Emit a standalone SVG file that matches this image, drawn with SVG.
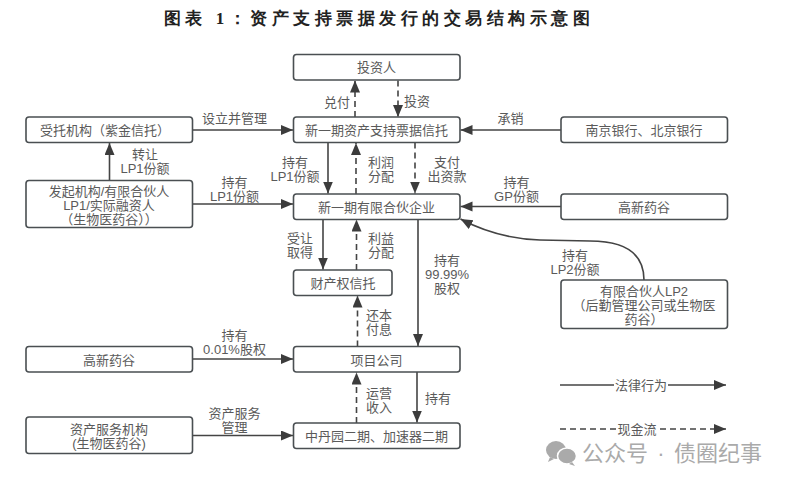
<svg xmlns="http://www.w3.org/2000/svg" width="789" height="486" viewBox="0 0 789 486">
<style>
text{font-family:"Liberation Sans","Noto Sans CJK SC",sans-serif;font-size:13px;fill:#5a5a5a;text-anchor:middle}
.n rect{fill:#fff;stroke:#4a4f52;stroke-width:1.6}
.c path{fill:none;stroke:#444;stroke-width:1.6}
.s{marker-end:url(#a)}
.d{stroke-dasharray:6 4;marker-end:url(#a)}
.t{font-family:"Liberation Serif",serif;font-size:17px;font-weight:700;fill:#222;letter-spacing:4.500px}
.w{font-size:22px;fill:#aaa;text-anchor:start;word-spacing:3.250px}
</style>
<defs>
<marker id="a" markerUnits="userSpaceOnUse" markerWidth="13" markerHeight="11" refX="12" refY="5" orient="auto"><path d="M0 0L12 5L0 10Z" fill="#3c3c3c"/></marker>
</defs>
<rect width="789" height="486" fill="#fff"/>
<text class="t" x="379" y="24">图表 1：资产支持票据发行的交易结构示意图</text>
<g class="c" id="connectors">
<path class="d" d="M355 117V80.500"/>
<path class="d" d="M398 80.500V117"/>
<path class="s" d="M192.500 130H293"/>
<path class="s" d="M561 130H460.500"/>
<path class="s" d="M109.500 180.500V143"/>
<path class="s" d="M328 142.500V193.500"/>
<path class="d" d="M356 194V143"/>
<path class="d" d="M415 142.500V193.500"/>
<path class="s" d="M192.500 204H293"/>
<path class="s" d="M561 206.500H460.500"/>
<path class="s" d="M323 219V269.500"/>
<path class="d" d="M356.500 270V219.500"/>
<path class="s" d="M418 219V346"/>
<path class="s" d="M644 280C644 255 628 241 590 241L540 240C510 239 485 232 460.500 219"/>
<path class="d" d="M357.500 346.500V295.500"/>
<path class="s" d="M192.500 359H293"/>
<path class="s" d="M417 372V422.500"/>
<path class="d" d="M356.500 423V372.500"/>
<path class="s" d="M192.500 435.500H293"/>
<path class="s" d="M560 385H726"/>
<path class="d" d="M560 429H726"/>
</g>
<g class="n" id="n1"><rect x="293.500" y="54.500" width="166.500" height="25.500" rx="3"/><text x="376.500" y="72">投资人</text></g>
<g class="n" id="n2"><rect x="26" y="117" width="166.500" height="25.500" rx="3"/><text x="105" y="135">受托机构（紫金信托）</text></g>
<g class="n" id="n3"><rect x="293.500" y="117" width="166.500" height="25.500" rx="3"/><text x="376.500" y="135">新一期资产支持票据信托</text></g>
<g class="n" id="n4"><rect x="561" y="117" width="166.500" height="25.500" rx="3"/><text x="644" y="135">南京银行、北京银行</text></g>
<g class="n" id="n5"><rect x="26" y="180.500" width="166.500" height="47" rx="3"/><text x="109" y="196">发起机构/有限合伙人<tspan x="109" dy="14">LP1/实际融资人</tspan><tspan x="109" dy="14">（生物医药谷））</tspan></text></g>
<g class="n" id="n6"><rect x="293.500" y="194" width="166.500" height="25.500" rx="3"/><text x="376.500" y="212">新一期有限合伙企业</text></g>
<g class="n" id="n7"><rect x="561" y="194" width="166.500" height="25.500" rx="3"/><text x="644" y="212">高新药谷</text></g>
<g class="n" id="n8"><rect x="293.500" y="270" width="98.500" height="25.500" rx="3"/><text x="343" y="288">财产权信托</text></g>
<g class="n" id="n9"><rect x="561" y="280" width="166.500" height="48.500" rx="3"/><text x="644" y="296">有限合伙人LP2<tspan x="644" dy="14">（后勤管理公司或生物医</tspan><tspan x="644" dy="14">药谷）</tspan></text></g>
<g class="n" id="n10"><rect x="26" y="346.500" width="166.500" height="25.500" rx="3"/><text x="109" y="365">高新药谷</text></g>
<g class="n" id="n11"><rect x="293.500" y="346.500" width="166.500" height="25.500" rx="3"/><text x="376.500" y="365">项目公司</text></g>
<g class="n" id="n12"><rect x="26" y="417" width="166.500" height="36.500" rx="3"/><text x="109" y="434">资产服务机构<tspan x="109" dy="14">(生物医药谷)</tspan></text></g>
<g class="n" id="n13"><rect x="293.500" y="423" width="166.500" height="25.500" rx="3"/><text x="376.500" y="441">中丹园二期、加速器二期</text></g>
<g id="labels">
<text x="337" y="107">兑付</text><text x="417" y="106">投资</text>
<text x="234.500" y="123">设立并管理</text><text x="510.500" y="123">承销</text>
<text x="145" y="159">转让<tspan x="145" dy="14">LP1份额</tspan></text>
<text x="295" y="167">持有<tspan x="295" dy="14">LP1份额</tspan></text>
<text x="381" y="167">利润<tspan x="381" dy="14">分配</tspan></text>
<text x="447" y="167">支付<tspan x="447" dy="14">出资款</tspan></text>
<text x="234.500" y="187">持有<tspan x="234.500" dy="14">LP1份额</tspan></text>
<text x="516.500" y="187">持有<tspan x="516.500" dy="14">GP份额</tspan></text>
<text x="300" y="243">受让<tspan x="300" dy="14">取得</tspan></text>
<text x="381" y="243">利益<tspan x="381" dy="14">分配</tspan></text>
<text x="447" y="265">持有<tspan x="447" dy="14">99.99%</tspan><tspan x="447" dy="14">股权</tspan></text>
<text x="575" y="260">持有<tspan x="575" dy="14">LP2份额</tspan></text>
<text x="379" y="320">还本<tspan x="379" dy="14">付息</tspan></text>
<text x="234.500" y="340">持有<tspan x="234.500" dy="14">0.01%股权</tspan></text>
<text x="438" y="403">持有</text>
<text x="379" y="398">运营<tspan x="379" dy="14">收入</tspan></text>
<text x="234.500" y="418">资产服务<tspan x="234.500" dy="14">管理</tspan></text>
<rect x="614" y="378" width="54" height="14" fill="#fff"/><text x="641" y="390">法律行为</text>
<rect x="616" y="422" width="42" height="14" fill="#fff"/><text x="637" y="434">现金流</text>
</g>
<g id="watermark" fill="#aaa">
<ellipse cx="556" cy="450" rx="10" ry="9"/><path d="M550 457l-2 5 6-3z"/>
<ellipse cx="567" cy="456" rx="9.500" ry="8" stroke="#fff" stroke-width="1.500"/><path d="M572 462l3 4-6-2z"/>
<text class="w" x="582" y="461">公众号 · 债圈纪事</text>
</g>
</svg>
